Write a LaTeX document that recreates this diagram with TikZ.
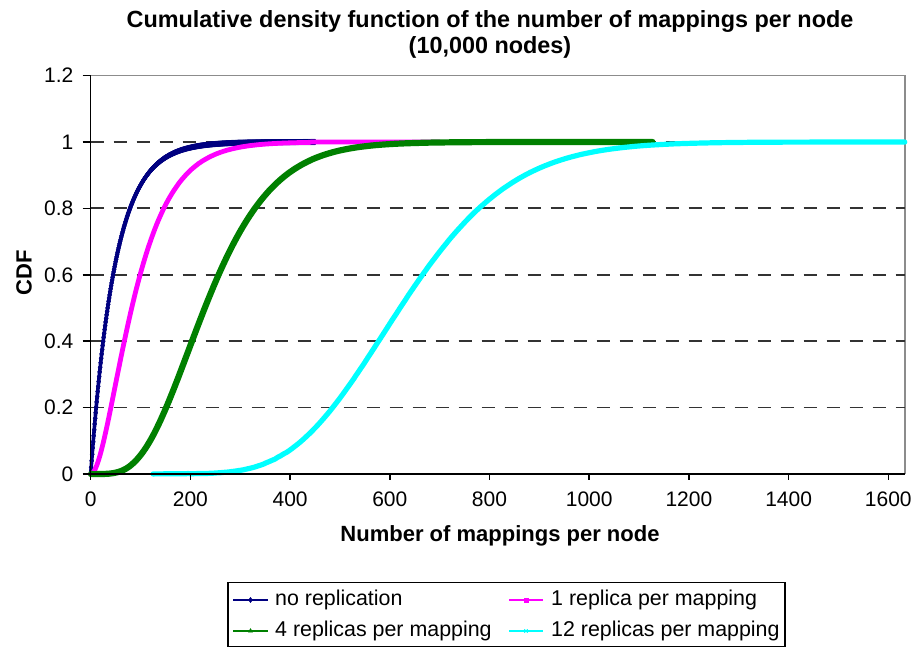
\documentclass[tikz,border=0pt]{standalone}
\usepackage{fontspec}
\setmainfont{Liberation Sans}
\usetikzlibrary{plotmarks,calc}

\definecolor{noRep}{HTML}{000080}
\definecolor{oneRep}{HTML}{FF00FF}
\definecolor{fourRep}{HTML}{008000}
\definecolor{twelveRep}{HTML}{00FFFF}
\definecolor{gridGrey}{HTML}{333333}
\definecolor{frameGrey}{HTML}{8C8C8C}

\tikzset{
  ticklabel/.style={font=\fontsize{21}{25}\selectfont, inner sep=0pt},
  axistitle/.style={font=\bfseries\fontsize{22}{26}\selectfont, inner sep=0pt},
  charttitle/.style={font=\bfseries\fontsize{23.4}{28}\selectfont, inner sep=0pt},
  legendtext/.style={font=\fontsize{21.4}{25}\selectfont, inner sep=0pt, anchor=west},
  gridline/.style={gridGrey, line width=1.8pt, dash pattern=on 13pt off 10pt},
  axisline/.style={black, line width=1.5pt},
  curve/.style={line width=#1, line join=round, line cap=round},
  legendline/.style={line width=2pt},
}

\begin{document}
\begin{tikzpicture}[x=1pt,y=1pt,
  declare function={
    % one Poisson term  z^k e^{-z} / k!  evaluated in log space
    pterm(\z,\k,\q) = exp(\k*ln(\z)-\z-\q);
    % Erlang CDFs with shape 1, 2, 5 and 13
    erlA(\z) = 1-exp(-\z);
    erlB(\z) = 1-exp(-\z)*(1+\z);
    erlC(\z) = 1-exp(-\z)-pterm(\z,1,0)-pterm(\z,2,0.693147)
               -pterm(\z,3,1.791759)-pterm(\z,4,3.178054);
    erlD(\z) = 1-exp(-\z)-pterm(\z,1,0)-pterm(\z,2,0.693147)
               -pterm(\z,3,1.791759)-pterm(\z,4,3.178054)
               -pterm(\z,5,4.787492)-pterm(\z,6,6.579251)
               -pterm(\z,7,8.525161)-pterm(\z,8,10.604603)
               -pterm(\z,9,12.801827)-pterm(\z,10,15.104413)
               -pterm(\z,11,17.502308)-pterm(\z,12,19.987214);
    % data to picture coordinates
    px(\v) = 90.7+0.4985*\v;
    py(\f) = 174+332*\f;
  }]

\useasboundingbox (0,0) rectangle (915,648);
\fill[white] (0,0) rectangle (915,648);

% plot area frame (top and right) and horizontal gridlines
\draw[frameGrey, line width=1.5pt] ({px(0)},{py(1.2)}) -- ({px(1633)},{py(1.2)}) -- ({px(1633)},{py(0)});
\foreach \g in {0.2,0.4,0.6,0.8,1.0}
  \draw[gridline] ({px(0)},{py(\g)}) -- ({px(1633)},{py(\g)});

% the four CDF curves
\draw[noRep, curve=3.6pt] plot[domain=0:450, samples=451, mark=diamond*,
      mark size=2.9pt, mark options={line width=0.3pt}]
      ({px(\x)},{py(erlA(\x/49))});
\draw[oneRep, curve=4.8pt] plot[domain=0:700, samples=240, smooth]
      ({px(\x)},{py(erlB(\x/49))});
\draw[fourRep, curve=6.2pt] plot[domain=0.5:1127, samples=260, smooth]
      ({px(\x)},{py(erlC(\x/49))});
\draw[twelveRep, curve=5.2pt] plot[domain=125:1633, samples=260, smooth]
      ({px(\x)},{py(erlD(\x/49))});

% axes
\draw[axisline] ({px(0)},{py(1.2)}) -- ({px(0)},{py(0)}) -- ({px(1633)},{py(0)});
\foreach \v/\lbl [count=\i] in {0/0,0.2/0.2,0.4/0.4,0.6/0.6,0.8/0.8,1.0/1,1.2/1.2} {
  \draw[axisline] ({px(0)-8},{py(\v)}) -- ({px(0)},{py(\v)});
  \node[ticklabel, anchor=east] (ytick\i) at (73.5,{py(\v)}) {\lbl};
}
\foreach \v [count=\i] in {0,200,...,1600} {
  \draw[axisline] ({px(\v)},{py(0)}) -- ({px(\v)},{py(0)-6});
  \node[ticklabel] (xtick\i) at ({px(\v)},149) {\v};
}

% titles
\node[charttitle] (title1) at (490,626) {Cumulative density function of the number of mappings per node};
\node[charttitle] (title2) at (490,601) {(10,000 nodes)};
\node[axistitle] (xtitle) at (500,112) {Number of mappings per node};
\node[axistitle, rotate=90] (ytitle) at (24,375) {CDF};

% legend
\draw[black, line width=1.3pt] (228,1.3) rectangle (785,65.3);
\coordinate (la1) at (233,48); \coordinate (lb1) at (268,48);
\coordinate (la2) at (509,48); \coordinate (lb2) at (543,48);
\coordinate (la3) at (233,17); \coordinate (lb3) at (268,17);
\coordinate (la4) at (509,17); \coordinate (lb4) at (543,17);
\draw[noRep, legendline] (la1) -- (lb1);
\draw[noRep] plot[mark=diamond*, mark size=2.6pt] coordinates {($(la1)!0.5!(lb1)$)};
\draw[oneRep, legendline] (la2) -- (lb2);
\draw[oneRep] plot[mark=square*, mark size=1.8pt] coordinates {($(la2)!0.5!(lb2)$)};
\draw[fourRep, legendline] (la3) -- (lb3);
\draw[fourRep] plot[mark=triangle*, mark size=2.4pt] coordinates {($(la3)!0.5!(lb3)$)};
\draw[twelveRep, legendline] (la4) -- (lb4);
\draw[twelveRep, line width=1pt] plot[mark=x, mark size=2.4pt] coordinates {($(la4)!0.5!(lb4)$)};
\node[legendtext] (leg1) at (275,48) {no replication};
\node[legendtext] (leg2) at (551,48) {1 replica per mapping};
\node[legendtext] (leg3) at (275,17) {4 replicas per mapping};
\node[legendtext] (leg4) at (551,17) {12 replicas per mapping};
\end{tikzpicture}
\end{document}
